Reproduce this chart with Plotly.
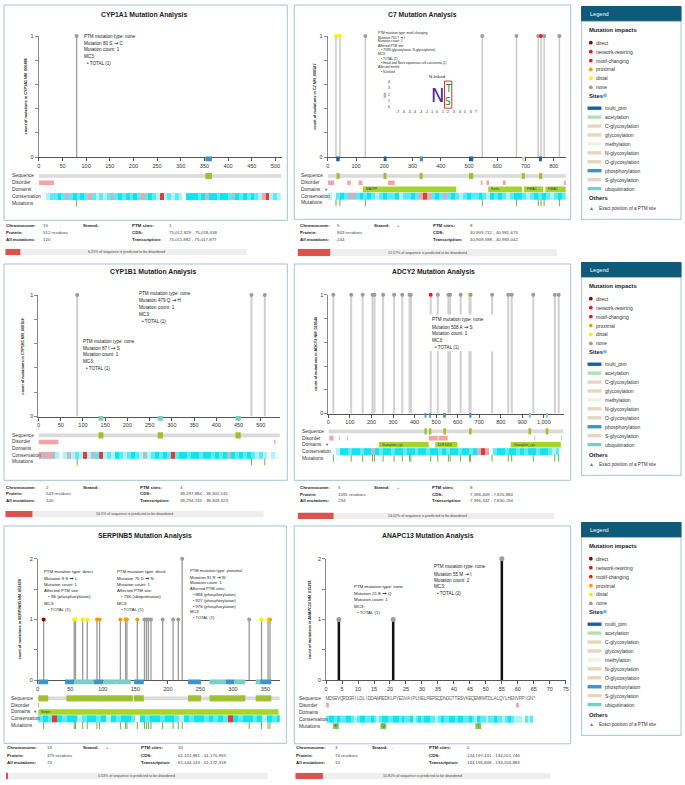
import plotly.graph_objects as go

W, H = 685, 785
FONT = "Liberation Sans, DejaVu Sans, Arial, Helvetica, sans-serif"
ARROW_TMPL = '<span style="font-family:DejaVu Sans;font-size:%.1fpx;font-weight:bold">&#8594;</span>'

# ---------------- shared categories ----------------
impact_names = ["direct", "network-rewiring", "motif-changing", "proximal", "distal", "none"]
impact_colors = ["#8b0000", "#e8141c", "#ff1010", "#ff9a00", "#ffee00", "#9c9c9c"]
site_names = ["multi_ptm", "acetylation", "C-glycosylation", "glycosylation", "methylation",
              "N-glycosylation", "O-glycosylation", "phosphorylation", "S-glycosylation", "ubiquitination"]
site_colors = ["#1c5e9e", "#b3e0b3", "#e6d6bb", "#e6d6bb", "#eaf5e6",
               "#e6d6bb", "#e6d6bb", "#3e94c9", "#e6d6bb", "#7ccdc3"]
track_names = ["Sequence", "Disorder", "Domains", "Conservation", "Mutations"]
info_labels = ["Chromosome:", "Strand:", "PTM sites:", "Protein:", "CDS:", "All mutations:", "Transcription:"]
# conservation classes 0..6 : red, pink, grey, white, pale cyan, cyan, bright cyan
cons_colors = ["#e03c3c", "#f2a5ab", "#b9bcc6", "#f1fbfc", "#aef3f8", "#5eeaf3", "#0fe4f0"]
ytick_vals_1 = [0, 0.2, 0.4, 0.6, 0.8, 1]
ytick_text_1 = ["0", "", "", "", "", "1"]
ytick_vals_2 = [0, 0.5, 1, 1.5, 2]
ytick_text_2 = ["0", "", "1", "", "2"]

# ---------------- CYP1A1 ----------------
cyp1a1_length = 512
cyp1a1_mut_pos = [80]
cyp1a1_mut_count = [1]
cyp1a1_mut_impact = ["none"]
cyp1a1_ptm_start = [352]
cyp1a1_ptm_end = [366]
cyp1a1_ptm_type = ["phosphorylation"]
cyp1a1_mark_start = [352]
cyp1a1_mark_end = [366]
cyp1a1_dis_start = [0]
cyp1a1_dis_end = [32]
cyp1a1_dom_start = []
cyp1a1_dom_end = []
cyp1a1_dom_name = []
cyp1a1_conservation = [3, 3, 4, 5, 5, 6, 5, 2, 5, 6, 5, 6, 5, 1, 5, 4, 5, 4, 5, 2, 5, 6, 5, 6, 5, 6, 5, 1, 5, 6,
                       5, 4, 0, 4, 5, 4, 5, 4, 3, 6, 6, 6, 5, 6, 2, 6, 6, 5, 6, 6, 5, 2, 6, 5, 6, 5, 6, 5, 4, 1,
                       0, 4, 5, 4]
cyp1a1_info = ["15", "-", "1", "512 residues", "75,012,829 - 75,018,438", "120", "75,011,882 - 75,017,877"]
cyp1a1_disorder_pct = 6.25
cyp1a1_popups = [["PTM mutation type: none", "Mutation 80 S → C", "Mutation count: 1", "MC3:", "• TOTAL (1)"]]

# ---------------- C7 ----------------
c7_length = 843
c7_mut_pos = [29, 43, 133, 547, 668, 745, 755, 766, 820]
c7_mut_count = [1, 1, 1, 1, 1, 1, 1, 1, 1]
c7_mut_impact = ["distal", "distal", "none", "none", "none", "none", "motif-changing", "none", "none"]
c7_ptm_start = [30, 198, 326, 500, 688, 748]
c7_ptm_end = [42, 208, 337, 515, 698, 758]
c7_ptm_type = ["multi_ptm", "multi_ptm", "phosphorylation", "multi_ptm", "glycosylation", "multi_ptm"]
c7_mark_start = [31, 197, 325, 500, 687, 748]
c7_mark_end = [42, 208, 336, 515, 698, 759]
c7_dis_start = [0, 69, 109, 213, 542, 562, 620, 836]
c7_dis_end = [22, 81, 123, 237, 548, 571, 630, 843]
c7_dom_start = [124, 568, 694, 770]
c7_dom_end = [455, 688, 762, 843]
c7_dom_name = ["MACPF", "Sushi", "FIMAC", "FIMAC"]
c7_conservation = [4, 3, 5, 6, 5, 2, 2, 5, 6, 5, 6, 5, 4, 5, 6, 5, 5, 6, 4, 5, 5, 6, 5, 1, 0, 1, 5, 6, 5, 2,
                   5, 6, 5, 4, 5, 6, 5, 5, 6, 5, 4, 6, 5, 6, 5, 4, 5, 6, 6, 5, 4, 5, 6, 5, 6, 5, 4, 5, 6, 5]
c7_info = ["5", "+", "8", "843 residues", "40,909,712 - 40,981,675", "244", "40,909,598 - 40,983,042"]
c7_disorder_pct = 12.57
c7_popups = [["PTM mutation type: motif-changing", "Mutation 755 T → I", "Mutation count: 1",
              "Affected PTM site:", "• 753N (glycosylation, N-glycosylation)", "MC3:", "• TOTAL (1)",
              "• Head and Neck squamous cell carcinoma (1)", "Affected motifs:", "• N-linked"]]
logo_title = "N-linked"
logo_positions = [-7, -6, -5, -4, -3, -2, -1, 0, 1, 2, 3, 4, 5, 6, 7]
logo_bits = [0, 1, 2, 3, 4]
logo_letters = ["N", "T", "S"]
logo_letter_pos = [0, 2, 2]
logo_letter_bottom = [0.0, 1.9, 0.0]
logo_letter_top = [4.0, 4.0, 1.9]
logo_letter_colors = ["#4b2ca0", "#1d8a3c", "#1d8a3c"]

# ---------------- CYP1B1 ----------------
cyp1b1_length = 543
cyp1b1_mut_pos = [87, 479, 509]
cyp1b1_mut_count = [1, 1, 1]
cyp1b1_mut_impact = ["none", "none", "none"]
cyp1b1_ptm_start = [135, 268, 443]
cyp1b1_ptm_end = [146, 280, 455]
cyp1b1_ptm_type = ["ubiquitination", "ubiquitination", "ubiquitination"]
cyp1b1_mark_start = [135, 268, 443]
cyp1b1_mark_end = [146, 280, 455]
cyp1b1_dis_start = [0, 530]
cyp1b1_dis_end = [45, 533]
cyp1b1_dom_start = []
cyp1b1_dom_end = []
cyp1b1_dom_name = []
cyp1b1_conservation = [1, 2, 1, 2, 4, 3, 4, 2, 4, 5, 4, 0, 4, 2, 5, 0, 4, 5, 4, 6, 5, 4, 5, 6, 5, 4, 2, 4, 5, 6,
                       5, 6, 5, 0, 5, 6, 6, 5, 6, 6, 5, 6, 6, 5, 6, 5, 6, 2, 6, 5, 6, 5, 6, 5, 4, 5, 4, 3, 4, 3]
cyp1b1_info = ["2", "-", "3", "543 residues", "38,297,884 - 38,302,531", "100", "38,294,745 - 38,303,323"]
cyp1b1_disorder_pct = 10.5
cyp1b1_popups = [["PTM mutation type: none", "Mutation 479 Q → H", "Mutation count: 1", "MC3:", "• TOTAL (1)"],
                 ["PTM mutation type: none", "Mutation 87 I → S", "Mutation count: 1", "MC3:", "• TOTAL (1)"]]

# ---------------- ADCY2 ----------------
adcy2_length = 1091
adcy2_mut_pos = [23, 106, 159, 205, 214, 254, 305, 343, 377, 383, 475, 508, 557, 565, 614, 655, 660, 760,
                 835, 851, 951, 1051, 1069]
adcy2_mut_count = [1] * 23
adcy2_mut_impact = ["none"] * 10 + ["motif-changing"] + ["none"] * 4 + ["distal"] + ["none"] * 7
adcy2_ptm_start = [447, 468, 533, 654, 930, 1011]
adcy2_ptm_end = [455, 476, 545, 664, 940, 1019]
adcy2_ptm_type = ["phosphorylation", "phosphorylation", "phosphorylation", "phosphorylation",
                  "ubiquitination", "ubiquitination"]
adcy2_mark_start = [446, 467, 534, 653, 929, 1009]
adcy2_mark_end = [457, 478, 546, 665, 941, 1021]
adcy2_dis_start = [4, 49, 88, 466, 512, 956, 1080]
adcy2_dis_end = [24, 53, 92, 508, 554, 960, 1084]
adcy2_dom_start = [235, 496, 846]
adcy2_dom_end = [466, 599, 1079]
adcy2_dom_name = ["Guanylate_cyc", "DUF1053", "Guanylate_cyc"]
adcy2_conservation = [3, 3, 4, 6, 6, 5, 6, 6, 5, 6, 6, 2, 6, 5, 6, 6, 5, 6, 6, 5, 6, 6, 5, 6, 6, 5, 6, 6, 5, 6,
                      5, 6, 6, 5, 6, 6, 5, 6, 2, 0, 1, 3, 5, 6, 6, 5, 6, 6, 5, 6, 5, 6, 6, 5, 6, 6, 5, 4, 5, 3]
adcy2_info = ["5", "+", "8", "1091 residues", "7,396,409 - 7,826,884", "234", "7,396,342 - 7,830,194"]
adcy2_disorder_pct = 14.02
adcy2_popups = [["PTM mutation type: none", "Mutation 508 A → S", "Mutation count: 1", "MC3:", "• TOTAL (1)"]]

# ---------------- SERPINB5 ----------------
serpinb5_length = 375
serpinb5_mut_pos = [9, 56, 58, 69, 76, 91, 95, 127, 135, 137, 153, 164, 167, 170, 174, 192, 208, 216, 222,
                    325, 344, 354, 357]
serpinb5_mut_count = [1, 1, 1, 1, 1, 1, 1, 1, 1, 1, 1, 1, 1, 1, 1, 1, 1, 1, 2, 1, 1, 1, 1]
serpinb5_mut_impact = ["direct", "distal", "distal", "distal", "distal", "proximal", "proximal", "proximal",
                       "proximal", "proximal", "proximal", "none", "none", "none", "none", "none", "none",
                       "none", "none", "none", "distal", "distal", "proximal"]
serpinb5_ptm_start = [1, 42, 56, 71, 86, 101, 121, 148, 231, 264, 289, 302, 335, 342]
serpinb5_ptm_end = [16, 56, 71, 86, 101, 121, 143, 163, 251, 289, 302, 319, 342, 359]
serpinb5_ptm_type = ["phosphorylation", "phosphorylation", "ubiquitination", "ubiquitination",
                     "phosphorylation", "ubiquitination", "ubiquitination", "phosphorylation",
                     "phosphorylation", "ubiquitination", "phosphorylation", "ubiquitination",
                     "ubiquitination", "phosphorylation"]
serpinb5_mark_start = [1, 44, 148, 231, 264, 335]
serpinb5_mark_end = [16, 146, 163, 251, 319, 359]
serpinb5_dis_start = [0]
serpinb5_dis_end = [2]
serpinb5_dom_start = [1]
serpinb5_dom_end = [370]
serpinb5_dom_name = ["Serpin"]
serpinb5_conservation = [5, 6, 5, 0, 6, 5, 6, 6, 4, 5, 6, 6, 5, 6, 4, 6, 5, 6, 6, 5, 3, 6, 5, 6, 6, 5, 6, 6, 5, 4,
                         6, 5, 6, 6, 5, 6, 5, 6, 5, 0, 6, 5, 6, 6, 5, 6, 4, 6, 5, 6]
serpinb5_info = ["18", "+", "33", "375 residues", "61,151,881 - 61,170,955", "74", "61,144,143 - 61,172,318"]
serpinb5_disorder_pct = 0.53
serpinb5_popups = [["PTM mutation type: direct", "Mutation 9 S → L", "Mutation count: 1", "Affected PTM site:",
                    "• 9S (phosphorylation)", "MC3:", "• TOTAL (1)"],
                   ["PTM mutation type: distal", "Mutation 76 D → N", "Mutation count: 1", "Affected PTM site:",
                    "• 73K (ubiquitination)", "MC3:", "• TOTAL (1)"],
                   ["PTM mutation type: proximal", "Mutation 91 R → W", "Mutation count: 1", "Affected PTM sites:",
                    "• 88S (phosphorylation)", "• 92Y (phosphorylation)", "• 97S (phosphorylation)", "MC3:",
                    "• TOTAL (1)"]]

# ---------------- ANAPC13 ----------------
anapc13_length = 74
anapc13_sequence = "MDSEVQRDGRILDLIDDAWREDKLPYEDVAIPLNELPEPEQDNGGTTESVKEQEMKWTDLALQYLHENVPPIGN*"
anapc13_mut_pos = [4, 21, 55]
anapc13_mut_count = [1, 1, 2]
anapc13_mut_impact = ["none", "none", "none"]
anapc13_mut_alt = ["K", "Q", "I"]
anapc13_ptm_start = []
anapc13_ptm_end = []
anapc13_ptm_type = []
anapc13_mark_start = []
anapc13_mark_end = []
anapc13_dis_start = [0, 68]
anapc13_dis_end = [1, 69]
anapc13_dom_start = []
anapc13_dom_end = []
anapc13_dom_name = []
anapc13_conservation = [5, 6, 6, 5, 6, 5, 5, 6, 6, 5, 4, 5, 6, 6, 5, 5, 6, 5, 4, 5, 6, 6, 5, 5, 6, 6, 5, 6, 5, 5,
                        6, 4, 5, 6, 5, 6, 6, 5, 5, 4, 5, 6, 5, 5, 6, 6, 5, 6, 6, 5, 5, 6, 5, 4, 6, 5, 5, 4, 5, 5,
                        6, 5, 5, 4, 5, 6, 5, 4, 4, 4, 3, 5, 4, 5]
anapc13_info = ["3", "-", "0", "74 residues", "134,197,431 - 134,201,746", "10", "134,196,848 - 134,204,883"]
anapc13_disorder_pct = 10.81
anapc13_popups = [["PTM mutation type: none", "Mutation 21 E → Q", "Mutation count: 1", "MC3:", "• TOTAL (1)"],
                  ["PTM mutation type: none", "Mutation 55 M → I", "Mutation count: 2", "MC3:", "• TOTAL (2)"]]


def pdata(prefix):
    g = globals()
    return {k: g[prefix + "_" + k] for k in
            ["length", "mut_pos", "mut_count", "mut_impact", "ptm_start", "ptm_end", "ptm_type",
             "mark_start", "mark_end", "dis_start", "dis_end", "dom_start", "dom_end", "dom_name",
             "conservation", "info", "disorder_pct", "popups"]}


# ---------------- geometry / style (pixels) ----------------
PANELS = [
    dict(name="CYP1A1", d=pdata("cyp1a1"), ytitle="count of mutations in CYP1A1 NM_000499",
         box=(2, 2, 287, 219), title=(143, 12), x0=37, ppr=0.476, xmax=515, dtick=50,
         yzero=155.3, ytop=33.3, ymax=1, yt=(ytick_vals_1, ytick_text_1), ytx=24,
         stem=("#9a9a9a", 1.2), head=4, tx=(37, 0.476, 515), rows=(174.3, 6.9), lab_x=9, caret=False,
         popup_pos=[(81.7, 33.3, 6.9, 4.6)],
         info_x=(3.3, 40.7, 80, 96, 129.3, 166.7), info_y=(224.5, 231.3, 238.3),
         bar=(3.3, 246.7, 247.7, 254.3), bar_cx=125),
    dict(name="C7", d=pdata("c7"), ytitle="count of mutations in C7 NM_000587",
         box=(294, 2, 572, 218), title=(423, 12), x0=327.7, ppr=0.2841, xmax=843, dtick=100,
         yzero=155.3, ytop=33.3, ymax=1, yt=(ytick_vals_1, ytick_text_1), ytx=314,
         stem=("#c9c9c9", 1.5), head=4, tx=(327.7, 0.2841, 843), rows=(174.3, 6.75), lab_x=300, caret=True,
         popup_pos=[(377.3, 30, 4.35, 3.2)],
         info_x=(298.3, 336, 373.3, 396.7, 432.7, 470), info_y=(224.5, 231.3, 238.3),
         bar=(297.3, 558.3, 247.7, 255.3), bar_cx=428),
    dict(name="CYP1B1", d=pdata("cyp1b1"), ytitle="count of mutations in CYP1B1 NM_000104",
         box=(2, 263, 287, 481), title=(152, 271), x0=36.7, ppr=0.4472, xmax=543, dtick=50,
         yzero=416.7, ytop=294.3, ymax=1, yt=(ytick_vals_1, ytick_text_1), ytx=21,
         stem=("#cfcfcf", 2), head=4, tx=(36.7, 0.4472, 543), rows=(435.7, 6.65), lab_x=9, caret=False,
         popup_pos=[(137, 292.7, 7, 4.6), (80, 340.7, 7, 4.6)],
         info_x=(3.3, 43.3, 80, 96.7, 137.7, 178.3), info_y=(488, 494.7, 501.3),
         bar=(3.3, 263.3, 512, 518.3), bar_cx=133),
    dict(name="ADCY2", d=pdata("adcy2"), ytitle="count of mutations in ADCY2 NM_020546",
         box=(294, 263, 572, 481), title=(434, 271), x0=328.3, ppr=0.2167, xmax=1095, dtick=100,
         yzero=413.7, ytop=294, ymax=1, yt=(ytick_vals_1, ytick_text_1), ytx=315.7,
         stem=("#d0d0d0", 2), head=4, tx=(328.3, 0.2167, 1095), rows=(431.7, 6.75), lab_x=301, caret=True,
         popup_pos=[(431.7, 319.3, 7, 4.6)], popup_bg=(429, 314, 503, 351),
         info_x=(298.3, 336.7, 372.7, 396, 431.7, 470), info_y=(488.3, 495, 501.7),
         bar=(297.3, 555.7, 513.3, 520), bar_cx=427.7),
    dict(name="SERPINB5", d=pdata("serpinb5"), ytitle="count of mutations in SERPINB5 NM_002639",
         box=(2, 527, 286, 746), title=(144, 537), x0=36, ppr=0.6543, xmax=372, dtick=50,
         yzero=682.3, ytop=560, ymax=2, yt=(ytick_vals_2, ytick_text_2), ytx=18.3,
         stem=("#9a9a9a", 1.3), head=4, tx=(36, 0.6543, 372), rows=(700.7, 6.85), lab_x=8, caret=True,
         popup_pos=[(41.7, 573.3, 6.3, 4.3), (115, 573.3, 6.3, 4.3), (188.3, 572.3, 5.9, 4.1)],
         info_x=(4, 44.3, 80.7, 104, 139.3, 176), info_y=(750.7, 758, 765.3),
         bar=(4, 266.7, 775.8, 782.3), bar_cx=135),
    dict(name="ANAPC13", d=pdata("anapc13"), ytitle="count of mutations in ANAPC13 NM_015391",
         box=(294, 527, 572, 746.5), title=(428, 537), x0=326, ppr=3.214, xmax=75.2, dtick=5,
         yzero=682.3, ytop=560, ymax=2, yt=(ytick_vals_2, ytick_text_2), ytx=310.7,
         stem=("#111111", 2.5), head=5, tx=(326, 2.81, 75), rows=(700.7, 7.0), lab_x=298, caret=False,
         popup_pos=[(352.7, 588.3, 6.5, 4.4), (433.3, 568.3, 6.7, 4.6)],
         info_x=(295, 334.3, 371, 391, 428.3, 466.7), info_y=(750.7, 758, 765.3),
         bar=(295, 551.7, 775.8, 782.3), bar_cx=423.3),
]
LEGEND_TOPS = [3.5, 261.5, 523.5]

# ---------------- helpers ----------------
annotations, shapes, axes = [], [], {}


def add_text(x, y, s, size=5.0, color="#222", bold=False, xa="left", ya="middle", angle=0, family=FONT):
    annotations.append(dict(x=x / W, y=1 - y / H, xref="paper", yref="paper",
                            text=("<b>%s</b>" % s) if bold else s, showarrow=False,
                            xanchor=xa, yanchor=ya, textangle=angle, borderpad=0,
                            font=dict(size=size, color=color, family=family)))


def add_rect(x0, y0, x1, y1, fill="rgba(0,0,0,0)", line=None, lw=1, layer="below", xref="paper"):
    if xref == "paper":
        x0, x1 = x0 / W, x1 / W
    shapes.append(dict(type="rect", xref=xref, yref="paper", x0=x0, x1=x1,
                       y0=1 - y1 / H, y1=1 - y0 / H, fillcolor=fill, layer=layer,
                       line=dict(color=line if line else "rgba(0,0,0,0)", width=lw if line else 0)))


def add_circle(cx, cy, r, fill):
    shapes.append(dict(type="circle", xref="paper", yref="paper", x0=(cx - r) / W, x1=(cx + r) / W,
                       y0=1 - (cy + r) / H, y1=1 - (cy - r) / H, fillcolor=fill, line=dict(width=0)))


def ak(a):
    return a[0] + "axis" + a[1:]


cons_scale = []
for j, c in enumerate(cons_colors):
    cons_scale.append([round(j / 7, 6), c])
    cons_scale.append([round((j + 1) / 7, 6) if j < 6 else 1.0, c])

fig = go.Figure()

for k, P in enumerate(PANELS, start=1):
    d = P["d"]
    xm = "x" if k == 1 else "x%d" % k
    ym = "y" if k == 1 else "y%d" % k
    xt, yt = "x%d" % (k + 6), "y%d" % (k + 6)
    xb, yb = "x%d" % (k + 12), "y%d" % (k + 12)

    bx0, by0, bx1, by1 = P["box"]
    add_rect(bx0, by0, bx1, by1, line="#a6c3d3", lw=1)
    add_text(P["title"][0], P["title"][1], P["name"] + " Mutation Analysis", 6.8, "#222", bold=True, xa="center")

    # ---- lollipop axes ----
    x0, ppr, xmax = P["x0"], P["ppr"], P["xmax"]
    axes[ak(xm)] = dict(domain=[x0 / W, (x0 + ppr * xmax) / W], range=[0, xmax], anchor=ym,
                        showline=True, linecolor="#555", linewidth=1, ticks="outside", ticklen=3,
                        tickwidth=1, tickcolor="#555", tick0=0, dtick=P["dtick"], tickformat=",d",
                        tickfont=dict(size=5.5, color="#333", family=FONT),
                        showgrid=False, zeroline=False, fixedrange=True)
    axes[ak(ym)] = dict(domain=[1 - P["yzero"] / H, 1 - P["ytop"] / H], range=[0, P["ymax"]], anchor=xm,
                        showline=True, linecolor="#888", linewidth=1, ticks="outside", ticklen=3,
                        tickcolor="#888", tickvals=P["yt"][0], ticktext=P["yt"][1],
                        tickfont=dict(size=5.5, color="#333", family=FONT),
                        showgrid=False, zeroline=False, fixedrange=True)
    add_text(P["ytx"], (P["yzero"] + P["ytop"]) / 2, P["ytitle"], 3.8, "#222", bold=True,
             xa="center", angle=-90)

    sx, sy = [], []
    for pos, c in zip(d["mut_pos"], d["mut_count"]):
        sx += [pos, pos, None]
        sy += [0, c, None]
    fig.add_trace(go.Scatter(x=sx, y=sy, mode="lines", xaxis=xm, yaxis=ym, cliponaxis=False,
                             line=dict(color=P["stem"][0], width=P["stem"][1]),
                             hoverinfo="skip", showlegend=False))
    fig.add_trace(go.Scatter(x=d["mut_pos"], y=d["mut_count"], mode="markers", xaxis=xm, yaxis=ym,
                             cliponaxis=False, hoverinfo="skip", showlegend=False,
                             marker=dict(size=P["head"], line=dict(width=0),
                                         color=[impact_colors[impact_names.index(i)] for i in d["mut_impact"]])))

    for s, e, t in zip(d["ptm_start"], d["ptm_end"], d["ptm_type"]):
        add_rect(s, P["yzero"] - 0.5, e, P["yzero"] + 4.2, fill=site_colors[site_names.index(t)],
                 layer="above", xref=xm)

    if "popup_bg" in P:
        a, b, c, e = P["popup_bg"]
        add_rect(a, b, c, e, fill="white", layer="above")
    for lines, (px_, py_, lh, fs) in zip(d["popups"], P["popup_pos"]):
        arrow = ARROW_TMPL % (fs * 1.2)
        for i, line in enumerate(lines):
            ind = 3.2 if line.startswith("•") else 0
            add_text(px_ + ind, py_ + i * lh, line.replace("→", arrow), fs, "#222")

    # ---- tracks ----
    tx0, tppr, txmax = P["tx"]
    r0, sp = P["rows"]
    axes[ak(xt)] = dict(domain=[tx0 / W, (tx0 + tppr * txmax) / W], range=[0, txmax], anchor=yt,
                        visible=False, fixedrange=True)
    axes[ak(yt)] = dict(domain=[1 - (r0 + 4.5 * sp) / H, 1 - (r0 - 0.5 * sp) / H], range=[4.5, -0.5],
                        anchor=xt, visible=False, fixedrange=True)
    for i, nm in enumerate(track_names):
        add_text(P["lab_x"], r0 + i * sp, nm, 4.9, "#333")
    if P["caret"]:
        add_text(P["lab_x"] + 23.5, r0 + 2 * sp, "▾", 4.5, "#555")

    L = d["length"]
    if k == 6:
        seq = anapc13_sequence
        fig.add_trace(go.Scatter(x=[i + 0.5 for i in range(len(seq))], y=[0] * len(seq), mode="text",
                                 text=list(seq), xaxis=xt, yaxis=yt, cliponaxis=False,
                                 textfont=dict(size=4.6, color="#666", family=FONT),
                                 hoverinfo="skip", showlegend=False))
    else:
        add_rect(0, r0 - 1.8, L, r0 + 1.8, fill="#dadada", xref=xt)
    for s, e in zip(d["mark_start"], d["mark_end"]):
        add_rect(s, r0 - 3.1, e, r0 + 3.1, fill="rgba(146,186,18,0.85)", xref=xt, layer="above")
    for s, e in zip(d["dis_start"], d["dis_end"]):
        add_rect(s, r0 + sp - 2.3, e, r0 + sp + 2.3, fill="#f5a3a6", xref=xt)
    for s, e, nm in zip(d["dom_start"], d["dom_end"], d["dom_name"]):
        add_rect(s, r0 + 2 * sp - 2.8, e, r0 + 2 * sp + 2.8, fill="#a5d42c", xref=xt)
        add_text(tx0 + s * tppr + 2, r0 + 2 * sp, nm, 3.2, "#335")
    cons = d["conservation"]
    n = len(cons)
    fig.add_trace(go.Heatmap(z=[cons], x=[L * i / n for i in range(n + 1)], y=[2.5, 3.5],
                             xaxis=xt, yaxis=yt, zmin=-0.5, zmax=6.5, showscale=False, hoverinfo="skip",
                             colorscale=cons_scale))
    if k == 6:
        fig.add_trace(go.Scatter(x=[p - 0.5 for p in d["mut_pos"]], y=[4] * len(d["mut_pos"]),
                                 mode="markers+text", text=anapc13_mut_alt, xaxis=xt, yaxis=yt,
                                 cliponaxis=False, textposition="middle center",
                                 textfont=dict(size=4.2, color="#1f3d0c", family=FONT),
                                 marker=dict(symbol="square", size=6, color="#8fc45a", line=dict(width=0)),
                                 hoverinfo="skip", showlegend=False))
    else:
        fig.add_trace(go.Scatter(x=d["mut_pos"], y=[4] * len(d["mut_pos"]), mode="markers",
                                 xaxis=xt, yaxis=yt, cliponaxis=False, hoverinfo="skip", showlegend=False,
                                 marker=dict(symbol="line-ns", size=5, line=dict(color="#6fb04a", width=1))))

    # ---- info block ----
    ix = P["info_x"]
    iy = P["info_y"]
    v = d["info"]
    cells = [(0, 0, 0, 0), (1, 2, 0, 1), (2, 4, 0, 2), (3, 0, 1, 3), (4, 4, 1, 4), (5, 0, 2, 5), (6, 4, 2, 6)]
    for li, col, row, vi in cells:
        add_text(ix[col], iy[row], info_labels[li], 4.4, "#222", bold=True)
        add_text(ix[col + 1], iy[row], v[vi], 4.4, "#444")

    # ---- disorder progress bar ----
    ba, bb, bc, bd = P["bar"]
    axes[ak(xb)] = dict(domain=[ba / W, bb / W], range=[0, 100], anchor=yb, visible=False, fixedrange=True)
    axes[ak(yb)] = dict(domain=[1 - bd / H, 1 - bc / H], range=[-0.5, 0.5], anchor=xb, visible=False,
                        fixedrange=True)
    fig.add_trace(go.Bar(x=[100], y=[0], orientation="h", width=1, xaxis=xb, yaxis=yb,
                         marker=dict(color="#eeeeee", line=dict(width=0)), hoverinfo="skip", showlegend=False))
    fig.add_trace(go.Bar(x=[d["disorder_pct"]], y=[0], orientation="h", width=1, xaxis=xb, yaxis=yb,
                         marker=dict(color="#d9534f", line=dict(width=0)), hoverinfo="skip", showlegend=False))
    add_text(P["bar_cx"], (bc + bd) / 2, "%g%% of sequence is predicted to be disordered" % d["disorder_pct"],
             3.6, "#444", xa="center")

# ---- sequence logo inside the C7 popup ----
lg_x0, lg_step, lg_y0, lg_bit = 398.3, 5.64, 105.3, 6.5
add_text(437.7, 74, logo_title, 4.4, "#222", xa="center")
add_text(385.5, 92, "bits", 3.4, "#222", xa="center", angle=-90)
for b in logo_bits:
    add_text(391, lg_y0 - b * lg_bit, str(b), 3.4, "#222", xa="right")
for i, p in enumerate(logo_positions):
    add_text(lg_x0 + i * lg_step, 110, str(p), 3.4, "#222", xa="center")
logo_sizes = [20, 10, 10]
for ch, p, b0, b1, col, fs in zip(logo_letters, logo_letter_pos, logo_letter_bottom, logo_letter_top,
                                  logo_letter_colors, logo_sizes):
    cx = lg_x0 + (p + 7) * lg_step
    cy = lg_y0 - (b0 + b1) / 2 * lg_bit
    add_text(cx, cy, ch, fs, col, xa="center",
             family="Liberation Sans Narrow, DejaVu Sans Condensed, Liberation Sans")
add_rect(lg_x0 + 8.3 * lg_step, 78.7, lg_x0 + 9.6 * lg_step, 106, line="#e23030", lw=1, layer="above")

# ---- legends ----
for top in LEGEND_TOPS:
    add_rect(583, top, 683, top + 214.5, fill="white", line="#a6c3d3", lw=1)
    add_rect(583, top, 683, top + 14.5, fill="#0e5a7b", line="#0e5a7b", lw=1)
    add_text(590, top + 7.3, "Legend", 5.6, "white")
    add_text(589.5, top + 23.5, "Mutation impacts", 5.8, "#222", bold=True)
    for i, (nm, col) in enumerate(zip(impact_names, impact_colors)):
        cy = top + 36.5 + 9 * i
        add_circle(592.3, cy, 1.9, col)
        add_text(596.5, cy, nm, 5.0, "#333")
    add_text(589.5, top + 90.5, "Sites", 5.8, "#222", bold=True)
    add_circle(606.5, top + 89.8, 2.0, "#6cc3ea")
    for i, (nm, col) in enumerate(zip(site_names, site_colors)):
        cy = top + 102.5 + 9 * i
        add_rect(589, cy - 1.7, 603, cy + 1.7, fill=col)
        add_text(605.5, cy, nm, 5.0, "#333")
    add_text(589.5, top + 193.5, "Others", 5.8, "#222", bold=True)
    add_text(592.7, top + 203.5, "▲", 5.0, "#2b8bd0", xa="center")
    add_text(599, top + 203.5, "Exact position of a PTM site", 4.6, "#333")

fig.update_layout(width=W, height=H, margin=dict(l=0, r=0, t=0, b=0), paper_bgcolor="white",
                  plot_bgcolor="rgba(0,0,0,0)", showlegend=False, barmode="overlay", hovermode=False,
                  annotations=annotations, shapes=shapes, font=dict(family=FONT), **axes)
fig.write_html("out.html", config={"displayModeBar": False},
               post_script="document.body.style.margin='0';document.body.style.overflow='hidden';")
